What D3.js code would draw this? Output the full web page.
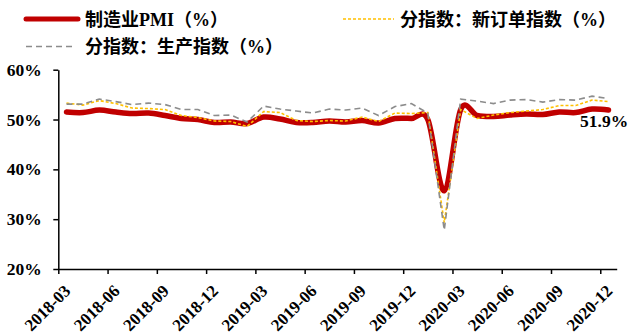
<!DOCTYPE html>
<html>
<head>
<meta charset="utf-8">
<script src="https://cdn.jsdelivr.net/npm/d3@7/dist/d3.min.js"></script>
<style>
  html, body { margin: 0; padding: 0; background: #fff; }
  svg { display: block; }
  .serif { font-family: "Liberation Serif", "Times New Roman", "Noto Sans CJK SC", serif; font-weight: bold; }
</style>
</head>
<body>
<svg id="chart" width="628" height="334"></svg>
<script>
// Monthly categories, 2018-03 … 2020-12
const months = [
  "2018-03","2018-04","2018-05","2018-06","2018-07","2018-08","2018-09","2018-10","2018-11","2018-12",
  "2019-01","2019-02","2019-03","2019-04","2019-05","2019-06","2019-07","2019-08","2019-09","2019-10","2019-11","2019-12",
  "2020-01","2020-02","2020-03","2020-04","2020-05","2020-06","2020-07","2020-08","2020-09","2020-10","2020-11","2020-12"
];

// 制造业PMI (%)
const pmi = [
  51.5, 51.4, 51.9, 51.5, 51.2, 51.3, 50.8, 50.2, 50.0, 49.4,
  49.5, 49.2, 50.5, 50.1, 49.4, 49.4, 49.7, 49.5, 49.8, 49.3, 50.2, 50.2,
  50.0, 35.7, 52.0, 50.8, 50.6, 50.9, 51.1, 51.0, 51.5, 51.4, 52.1, 51.9
];

// 分指数：新订单指数 (%)
const newOrders = [
  53.3, 52.9, 53.8, 53.2, 52.3, 52.2, 52.0, 50.8, 50.4, 49.7,
  49.6, 48.6, 51.6, 51.4, 49.8, 49.6, 49.8, 49.7, 50.5, 49.6, 51.3, 51.2,
  51.4, 29.3, 52.0, 50.2, 50.9, 51.4, 51.7, 52.0, 52.8, 52.8, 53.9, 53.6
];

// 分指数：生产指数 (%)
const production = [
  53.1, 53.1, 54.1, 53.6, 53.0, 53.3, 53.0, 52.0, 52.0, 50.8,
  50.9, 49.5, 52.7, 52.1, 51.7, 51.3, 52.1, 51.9, 52.3, 50.8, 52.6, 53.2,
  51.3, 27.8, 54.1, 53.7, 53.2, 53.9, 54.0, 53.5, 54.0, 53.9, 54.7, 54.2
];

// Axis ticks
const yTicks = [20, 30, 40, 50, 60];
const xTickLabels = months.filter((m, i) => i % 3 === 0);

const svg = d3.select("#chart");

const plotLeft = 58.3, plotRight = 616.7, plotTop = 69.7, plotBottom = 269;

const x = d3.scaleBand().domain(months).range([plotLeft, plotRight]).padding(0);
const xc = m => x(m) + x.bandwidth() / 2;
const xIdx = d3.scaleLinear().domain([0, months.length]).range([plotLeft, plotRight]);
const y = d3.scaleLinear().domain([20, 60]).range([plotBottom, plotTop]);

// Y axis
const yAxis = svg.append("g")
  .attr("transform", `translate(${plotLeft},0)`)
  .call(d3.axisLeft(y).tickValues(yTicks).tickSize(5).tickSizeOuter(0)
    .tickPadding(11.5).tickFormat(d => d + "%"));
yAxis.select(".domain").attr("stroke", "#000").attr("stroke-width", 1.5);
yAxis.selectAll(".tick line").attr("stroke", "#000").attr("stroke-width", 1.5);
yAxis.selectAll(".tick text")
  .attr("class", "serif").attr("font-size", 17.5).attr("fill", "#000");

// X axis: tick marks on category boundaries every quarter
const xAxis = svg.append("g")
  .attr("transform", `translate(0,${plotBottom})`)
  .call(d3.axisBottom(xIdx).tickValues(d3.range(0, months.length, 3))
    .tickSize(5).tickSizeOuter(0).tickFormat(""));
xAxis.select(".domain").attr("stroke", "#000").attr("stroke-width", 1.5);
xAxis.selectAll(".tick line").attr("stroke", "#000").attr("stroke-width", 1.5);

// Rotated category labels
svg.append("g").selectAll("text")
  .data(xTickLabels)
  .join("text")
  .attr("class", "serif")
  .attr("font-size", 17)
  .attr("text-anchor", "end")
  .attr("transform", d => `translate(${xc(d) + 5},${plotBottom + 23}) rotate(-45)`)
  .text(d => d);

// Series lines
const smooth = d3.line()
  .x((d, i) => xc(months[i]))
  .y(d => y(d))
  .curve(d3.curveCardinal.tension(0));
const straight = d3.line()
  .x((d, i) => xc(months[i]))
  .y(d => y(d));

svg.append("path").datum(pmi)
  .attr("d", smooth)
  .attr("fill", "none").attr("stroke", "#C00000")
  .attr("stroke-width", 5.5).attr("stroke-linejoin", "round").attr("stroke-linecap", "round");

svg.append("path").datum(newOrders)
  .attr("d", straight)
  .attr("fill", "none").attr("stroke", "#FFC000")
  .attr("stroke-width", 1.6).attr("stroke-dasharray", "3,2");

svg.append("path").datum(production)
  .attr("d", straight)
  .attr("fill", "none").attr("stroke", "#8C8C8C")
  .attr("stroke-width", 1.6).attr("stroke-dasharray", "6,4");

// Last PMI value label
const last = pmi[pmi.length - 1];
svg.append("text")
  .attr("class", "serif")
  .attr("font-size", 17.5)
  .attr("x", 580)
  .attr("y", y(last) + 17)
  .text(d3.format(".1f")(last) + "%");

// Legend
const legend = [
  { name: "制造业PMI（%）", color: "#C00000", width: 5, dash: null, x1: 26, x2: 78, ly: 19, tx: 85 },
  { name: "分指数：新订单指数（%）", color: "#FFC000", width: 1.6, dash: "3,2", x1: 343, x2: 394, ly: 19, tx: 400 },
  { name: "分指数：生产指数（%）", color: "#8C8C8C", width: 1.6, dash: "6,4", x1: 26, x2: 74, ly: 46.5, tx: 85 }
];
const lg = svg.append("g");
legend.forEach(s => {
  lg.append("line")
    .attr("x1", s.x1).attr("x2", s.x2).attr("y1", s.ly).attr("y2", s.ly)
    .attr("stroke", s.color).attr("stroke-width", s.width)
    .attr("stroke-linecap", s.dash ? "butt" : "round")
    .attr("stroke-dasharray", s.dash);
  lg.append("text")
    .attr("class", "serif")
    .attr("font-size", 18)
    .attr("x", s.tx).attr("y", s.ly + 6.5)
    .text(s.name);
});
</script>
</body>
</html>
